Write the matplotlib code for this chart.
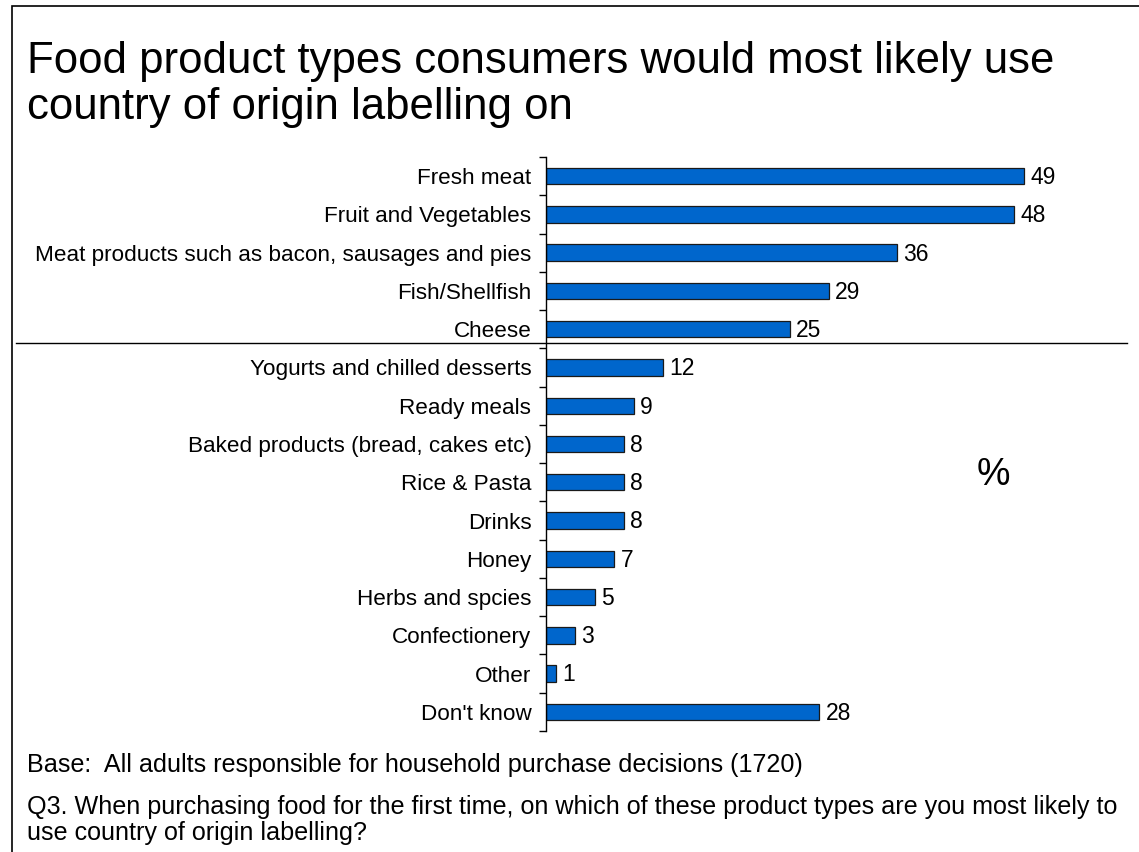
import matplotlib
matplotlib.use("Agg")
import matplotlib.pyplot as plt
from matplotlib.patches import Rectangle
from matplotlib.lines import Line2D

plt.rcParams['font.family'] = ['Liberation Sans', 'DejaVu Sans']

categories = ["Fresh meat", "Fruit and Vegetables",
              "Meat products such as bacon, sausages and pies",
              "Fish/Shellfish", "Cheese", "Yogurts and chilled desserts",
              "Ready meals", "Baked products (bread, cakes etc)",
              "Rice & Pasta", "Drinks", "Honey", "Herbs and spcies",
              "Confectionery", "Other", "Don't know"]
values = [49, 48, 36, 29, 25, 12, 9, 8, 8, 8, 7, 5, 3, 1, 28]

title_lines = ["Food product types consumers would most likely use",
               "country of origin labelling on"]
base_note = "Base:  All adults responsible for household purchase decisions (1720)"
question = ["Q3. When purchasing food for the first time, on which of these product types are you most likely to",
            "use country of origin labelling?"]

W, H = 1139, 852
fig = plt.figure(figsize=(W / 100, H / 100), dpi=100)

# border
fig.patches.append(Rectangle((12 / W, -0.1), 1.2, 1 - 6 / H + 0.1,
                             transform=fig.transFigure, fill=False,
                             edgecolor='black', linewidth=1.2))

ax = fig.add_axes([546 / W, 1 - 731 / H, (W - 546) / W, (731 - 157) / H])
y = list(range(len(categories)))
ax.barh(y, values, height=0.43, color='#0066CC', edgecolor='#1a1a1a', linewidth=0.9)
ax.set_xlim(0, (W - 546) / 9.755)
ax.set_ylim(len(categories) - 0.5, -0.5)
ax.set_yticks(y)
ax.set_yticklabels(categories, fontsize=16.2)
ax.set_yticks([i - 0.5 for i in range(len(categories) + 1)], minor=True)
ax.tick_params(axis='y', which='major', length=0, pad=10.5)
ax.tick_params(axis='y', which='minor', length=5, width=1, direction='out')
ax.set_xticks([])
for s in ['top', 'right', 'bottom']:
    ax.spines[s].set_visible(False)
ax.spines['left'].set_linewidth(1)
ax.patch.set_visible(False)

for yi, v in zip(y, values):
    ax.annotate(str(v), (v, yi), xytext=(4.5, -1), textcoords='offset points',
                va='center', ha='left', fontsize=16.5)

# separator line
fig.add_artist(Line2D([16 / W, 1127 / W], [1 - 343 / H, 1 - 343 / H],
                      transform=fig.transFigure, color='black', linewidth=1))

fig.text(27 / W, 1 - 62 / H, title_lines[0], fontsize=31.5, va='center', ha='left')
fig.text(27 / W, 1 - 108 / H, title_lines[1], fontsize=31.5, va='center', ha='left')

fig.text(993 / W, 1 - 475 / H, "%", fontsize=27, va='center', ha='center')

fig.text(27 / W, 1 - 765 / H, base_note, fontsize=18.1, va='center', ha='left')
fig.text(27 / W, 1 - 807 / H, question[0], fontsize=18.1, va='center', ha='left')
fig.text(27 / W, 1 - 833 / H, question[1], fontsize=18.1, va='center', ha='left')

fig.savefig("out.png", dpi=100, facecolor='white')
